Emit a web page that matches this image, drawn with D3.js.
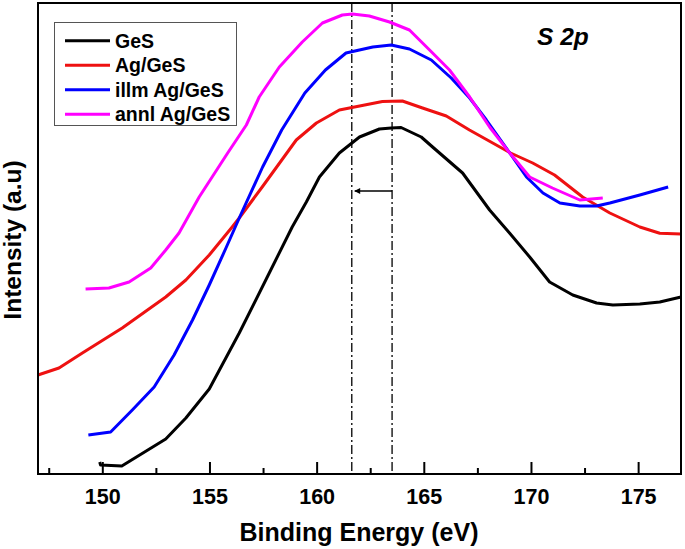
<!DOCTYPE html>
<html>
<head>
<meta charset="utf-8">
<script src="https://cdn.jsdelivr.net/npm/d3@7"></script>
<style>
html,body{margin:0;padding:0;background:#fff;}
svg text{font-family:Arial,"Liberation Sans",Helvetica,sans-serif;}
</style>
</head>
<body>
<svg id="chart" width="685" height="549"></svg>
<script>
// ---- data (binding energy eV, intensity a.u.) ----
const seriesNames = ["GeS", "Ag/GeS", "illm Ag/GeS", "annl Ag/GeS"];
const seriesColors = ["#000000", "#ee1111", "#0000ff", "#ff00ff"];

const gesE = [149.88,149.92,150.91,152.96,153.9,154.99,156.39,157.79,158.86,159.52,160.13,161.06,162.0,162.93,163.48,163.94,164.88,165.41,166.81,168.07,169.0,169.94,170.87,171.95,173.06,173.82,175.08,176.01,177.0];
const gesI = [12,9,8,35,56,85,141,201,247,272,297,321,337,345,346,346.5,337,327,301,264,241,217,192,179,171,169,170,172,177];

const agE = [147.0,147.98,149.07,150.93,152.96,153.9,154.99,156.06,156.39,157.46,159.05,159.99,161.06,163.07,164.0,164.94,166.05,167.13,169.05,170.08,171.1,172.41,173.68,175.08,176.01,177.0];
const agI = [99,106,121,146,177,194,219,247,256,287,334,351,364,372.5,373,366,358,344,321,311,299,277,261,247,240.7,240];

const illmE = [149.35,150.39,151.4,152.42,153.35,154.21,154.99,155.77,156.39,157.48,158.37,159.45,160.41,161.37,162.62,163.48,164.33,165.35,166.28,167.14,167.92,169.01,169.79,170.56,171.35,172.28,173.06,173.68,175.08,176.4];
const illmI = [39,42,64,87,119,154,189,226,256,307,344,381,404,421,427,429,425,414,396,376,354,321,297,281,271,268,268,271,279,287];

const annlE = [149.22,150.31,151.25,152.26,152.96,153.58,154.52,155.85,156.72,157.32,158.26,159.33,160.27,161.2,161.67,162.46,163.4,164.33,165.27,166.2,167.14,168.07,169.01,169.94,171.0,172.28,173.35];
const annlI = [185,186,192,206,224,241,277,321,349,377,407,432,451,459,460,458,452,444,424,404,377,347,321,297,286,274,276];

const xTicks = [150, 155, 160, 165, 170, 175];
const xMinorTicks = [147.5, 152.5, 157.5, 162.5, 167.5, 172.5];
const peakLines = [161.64, 163.52];   // dash-dot markers
const arrowY = 283;                    // intensity level of the shift arrow
const xDomain = [147, 177];
const yDomain = [0, 471];

// ---- layout ----
const svg = d3.select("#chart");
const L = 38, R = 681, T = 3, B = 474;
const x = d3.scaleLinear().domain(xDomain).range([L, R]);
const y = d3.scaleLinear().domain(yDomain).range([B, T]);

const allSeries = [
  {name: seriesNames[0], color: seriesColors[0], pts: d3.zip(gesE, gesI)},
  {name: seriesNames[1], color: seriesColors[1], pts: d3.zip(agE, agI)},
  {name: seriesNames[2], color: seriesColors[2], pts: d3.zip(illmE, illmI)},
  {name: seriesNames[3], color: seriesColors[3], pts: d3.zip(annlE, annlI)}
];

const line = d3.line().x(d => x(d[0])).y(d => y(d[1])).curve(d3.curveLinear);

// dash-dot vertical lines
svg.selectAll("line.peak").data(peakLines).enter().append("line")
  .attr("class", "peak")
  .attr("x1", d => x(d)).attr("x2", d => x(d))
  .attr("y1", T).attr("y2", B)
  .attr("stroke", "#000").attr("stroke-width", 1.3)
  .attr("stroke-dasharray", "9,3,2,3");

// arrow
svg.append("defs").append("marker")
  .attr("id", "ah").attr("viewBox", "0 0 10 10")
  .attr("refX", 9).attr("refY", 5)
  .attr("markerWidth", 9).attr("markerHeight", 6)
  .attr("markerUnits", "userSpaceOnUse")
  .attr("orient", "auto")
  .append("path").attr("d", "M0,0 L10,5 L0,10 Z").attr("fill", "#000");
svg.append("line")
  .attr("x1", x(peakLines[1])).attr("x2", x(peakLines[0]) + 3)
  .attr("y1", y(arrowY)).attr("y2", y(arrowY))
  .attr("stroke", "#000").attr("stroke-width", 1.3)
  .attr("marker-end", "url(#ah)");

// curves
svg.selectAll("path.series").data(allSeries).enter().append("path")
  .attr("class", "series")
  .attr("d", d => line(d.pts))
  .attr("fill", "none")
  .attr("stroke", d => d.color)
  .attr("stroke-width", 3)
  .attr("stroke-linejoin", "round");

// frame
svg.append("rect").attr("x", L).attr("y", T).attr("width", R - L).attr("height", B - T)
  .attr("fill", "none").attr("stroke", "#000").attr("stroke-width", 2);

// x axis ticks (inward)
const xAxis = d3.axisBottom(x).tickValues(xTicks).tickSize(-12).tickPadding(22)
  .tickFormat(d3.format("d"));
const gx = svg.append("g").attr("transform", `translate(0,${B})`).call(xAxis);
gx.select(".domain").remove();
gx.selectAll(".tick line").attr("stroke", "#000").attr("stroke-width", 2);
gx.selectAll(".tick text").attr("font-size", 21.5).attr("font-weight", "bold").attr("fill", "#000")
  .attr("dy", "0.35em");
const xMinor = d3.axisBottom(x).tickValues(xMinorTicks).tickSize(-6).tickFormat("");
const gm = svg.append("g").attr("transform", `translate(0,${B})`).call(xMinor);
gm.select(".domain").remove();
gm.selectAll(".tick line").attr("stroke", "#000").attr("stroke-width", 2);

// axis titles
svg.append("text").attr("x", 359).attr("y", 541)
  .attr("text-anchor", "middle").attr("font-size", 25).attr("font-weight", "bold")
  .text("Binding Energy (eV)");
svg.append("text").attr("transform", "translate(21,240) rotate(-90)")
  .attr("text-anchor", "middle").attr("font-size", 24.5).attr("font-weight", "bold")
  .text("Intensity (a.u)");

// S 2p label
svg.append("text").attr("x", 537).attr("y", 45)
  .attr("font-size", 24.5).attr("font-weight", "bold").attr("font-style", "italic")
  .text("S 2p");

// legend
const lg = svg.append("g");
lg.append("rect").attr("x", 54.5).attr("y", 22.5).attr("width", 182).attr("height", 103)
  .attr("fill", "#fff").attr("stroke", "#555").attr("stroke-width", 1);
const rows = lg.selectAll("g.row").data(allSeries).enter().append("g")
  .attr("transform", (d, i) => `translate(0,${40.7 + i * 24.5})`);
rows.append("line").attr("x1", 65).attr("x2", 110).attr("y1", 0).attr("y2", 0)
  .attr("stroke", d => d.color).attr("stroke-width", 3);
rows.append("text").attr("x", 115).attr("y", 0).attr("dy", "0.35em")
  .attr("font-size", 19.5).attr("font-weight", "bold")
  .text(d => d.name);
</script>
</body>
</html>
